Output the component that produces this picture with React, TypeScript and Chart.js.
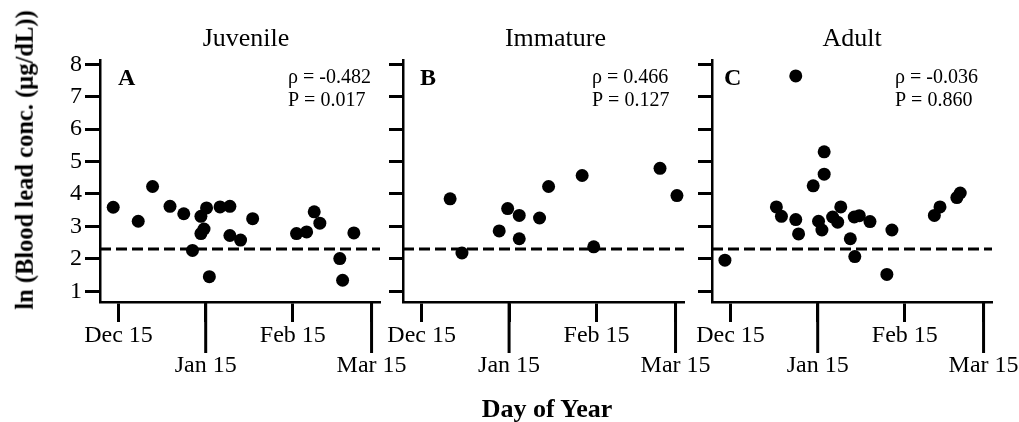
import React, { useEffect, useRef } from 'react';
import { Chart, registerables } from 'chart.js';

Chart.register(...registerables);

const SERIF = '"Liberation Serif", "Times New Roman", Times, serif';

// x axis: days after Dec 15
const tickDays = [0, 31, 62, 90];
const tickLabels = ['Dec 15', 'Jan 15', 'Feb 15', 'Mar 15'];
const longTick = [false, true, false, true];
const xMin = -6.6;
const xMax = 93;

// y axis: ln(blood lead)
const yTicks = [1, 2, 3, 4, 5, 6, 7, 8];
const yMin = 0.67;
const yMax = 8.13;
const threshold = 2.3; // ln(10 µg/dL)

const panelTitles = ['Juvenile', 'Immature', 'Adult'];
const panelLetters = ['A', 'B', 'C'];
const rhoValues = ['-0.482', '0.466', '-0.036'];
const pValues = ['0.017', '0.127', '0.860'];

const juvenileDays = [-1.9, 7.0, 12.1, 18.3, 23.2, 26.3, 29.3, 31.3, 30.4, 29.3, 32.3, 36.1, 39.6, 39.6, 43.4, 47.7, 63.3, 66.9, 69.6, 71.6, 78.7, 79.7, 83.7];
const juvenileLn = [3.59, 3.16, 4.23, 3.62, 3.39, 2.26, 3.31, 3.57, 2.92, 2.78, 1.45, 3.6, 3.62, 2.72, 2.58, 3.24, 2.78, 2.83, 3.45, 3.1, 2.01, 1.34, 2.8];

const immatureDays = [10.1, 14.3, 27.5, 30.5, 34.6, 34.6, 41.8, 45.0, 56.9, 61.0, 84.5, 90.5];
const immatureLn = [3.85, 2.18, 2.86, 3.55, 3.34, 2.62, 3.26, 4.23, 4.57, 2.37, 4.79, 3.95];

const adultDays = [-2.0, 23.2, 16.3, 18.1, 23.2, 24.2, 29.4, 33.3, 33.3, 31.3, 32.5, 36.3, 39.2, 38.1, 44.0, 45.8, 49.6, 42.6, 44.2, 55.6, 57.4, 72.5, 74.5, 80.5, 81.7];
const adultLn = [1.96, 7.64, 3.6, 3.31, 3.21, 2.77, 4.25, 5.3, 4.61, 3.16, 2.89, 3.29, 3.6, 3.13, 3.29, 3.33, 3.15, 2.62, 2.07, 1.52, 2.89, 3.34, 3.6, 3.89, 4.03];

type PanelProps = {
  idx: number;
  days: number[];
  values: number[];
  left: number;
  plotWidth: number;
  showYLabels: boolean;
  titleDx: number;
  letterDx: number;
  statsDx: number;
  yTickLen: number;
};

const CANVAS_H = 422;
const AXIS_W = 100;
const RIGHT_PAD = 40;

function Panel(p: PanelProps) {
  const ref = useRef<HTMLCanvasElement>(null);
  const width = AXIS_W + p.plotWidth + RIGHT_PAD;

  useEffect(() => {
    const canvas = ref.current;
    if (!canvas) return;

    const textPlugin = {
      id: 'panelText' + p.idx,
      afterDraw(chart: any) {
        const { ctx, chartArea } = chart;
        ctx.save();
        ctx.fillStyle = '#000';
        ctx.textBaseline = 'alphabetic';
        // panel title
        ctx.font = `26px ${SERIF}`;
        ctx.textAlign = 'center';
        ctx.fillText(panelTitles[p.idx], (chartArea.left + chartArea.right) / 2 + p.titleDx, chartArea.top - 14);
        // panel letter
        ctx.font = `bold 24px ${SERIF}`;
        ctx.textAlign = 'left';
        ctx.fillText(panelLetters[p.idx], chartArea.left + p.letterDx, chartArea.top + 25);
        // statistics
        ctx.font = `20px ${SERIF}`;
        ctx.fillText('\u03c1 = ' + rhoValues[p.idx], chartArea.right - p.statsDx, chartArea.top + 23);
        ctx.fillText('P = ' + pValues[p.idx], chartArea.right - p.statsDx, chartArea.top + 46);
        // long x ticks
        const xs = chart.scales.x;
        ctx.strokeStyle = '#000';
        ctx.lineWidth = 3;
        tickDays.forEach((d, i) => {
          if (!longTick[i]) return;
          const px = xs.getPixelForValue(d);
          ctx.beginPath();
          ctx.moveTo(px, chartArea.bottom);
          ctx.lineTo(px, chartArea.bottom + 51);
          ctx.stroke();
        });
        ctx.restore();
      },
    };

    const chart = new Chart(canvas, {
      type: 'scatter',
      data: {
        datasets: [
          {
            data: p.days.map((d, i) => ({ x: d, y: p.values[i] })),
            backgroundColor: '#000',
            borderColor: '#000',
            borderWidth: 0,
            pointRadius: 6.5,
            pointHoverRadius: 6.5,
          },
          {
            data: [
              { x: xMin, y: threshold },
              { x: xMax, y: threshold },
            ],
            showLine: true,
            borderColor: '#000',
            borderWidth: 3,
            borderDash: [11, 5],
            pointRadius: 0,
            pointHoverRadius: 0,
          } as any,
        ],
      },
      options: {
        animation: false,
        responsive: false,
        events: [],
        layout: { padding: { left: 0, right: RIGHT_PAD, top: 60, bottom: 0 } },
        plugins: {
          legend: { display: false },
          tooltip: { enabled: false },
          title: { display: false },
        },
        scales: {
          x: {
            type: 'linear',
            min: xMin,
            max: xMax,
            afterBuildTicks: (scale: any) => {
              scale.ticks = tickDays.map((v) => ({ value: v }));
            },
            afterFit: (scale: any) => {
              scale.height = CANVAS_H - 302;
            },
            border: { display: true, color: '#000', width: 2.5 },
            grid: {
              display: true,
              drawOnChartArea: false,
              drawTicks: true,
              tickLength: 20,
              tickWidth: 3,
              tickColor: '#000',
            },
            ticks: {
              autoSkip: false,
              maxRotation: 0,
              minRotation: 0,
              padding: -2,
              color: '#000',
              font: { family: SERIF, size: 24, lineHeight: 1.28 },
              callback: (_v: any, i: number) => (longTick[i] ? ['', tickLabels[i]] : tickLabels[i]),
            },
          },
          y: {
            type: 'linear',
            min: yMin,
            max: yMax,
            afterBuildTicks: (scale: any) => {
              scale.ticks = yTicks.map((v) => ({ value: v }));
            },
            afterFit: (scale: any) => {
              scale.width = AXIS_W;
            },
            border: { display: true, color: '#000', width: 2.5 },
            grid: {
              display: true,
              drawOnChartArea: false,
              drawTicks: true,
              tickLength: p.yTickLen,
              tickWidth: 3,
              tickColor: '#000',
            },
            ticks: {
              display: p.showYLabels,
              padding: 3,
              color: '#000',
              font: { family: SERIF, size: 24 },
              callback: (v: any) => String(v),
            },
          },
        },
      },
      plugins: [textPlugin],
    } as any);

    return () => chart.destroy();
  }, []);

  return (
    <canvas
      ref={ref}
      width={width}
      height={CANVAS_H}
      style={{ position: 'absolute', left: p.left, top: 0, width, height: CANVAS_H }}
    />
  );
}

export default function App() {
  return (
    <div
      style={{
        position: 'fixed',
        left: 0,
        top: 0,
        width: 1019,
        height: 422,
        overflow: 'hidden',
        background: '#fff',
      }}
    >
      <Panel idx={0} days={juvenileDays} values={juvenileLn} left={0} plotWidth={280} showYLabels={true} titleDx={6} letterDx={18} statsDx={92} yTickLen={15} />
      <Panel idx={1} days={immatureDays} values={immatureLn} left={303} plotWidth={281} showYLabels={false} titleDx={12} letterDx={17} statsDx={92} yTickLen={14} />
      <Panel idx={2} days={adultDays} values={adultLn} left={612} plotWidth={280} showYLabels={false} titleDx={0} letterDx={12} statsDx={97} yTickLen={14} />
      <div
        style={{
          position: 'absolute',
          left: 25,
          top: 159.5,
          transform: 'translate(-50%, -50%) rotate(-90deg)',
          fontFamily: SERIF,
          fontWeight: 'bold',
          fontSize: '24.5px',
          lineHeight: '24.5px',
          whiteSpace: 'nowrap',
          color: '#000',
        }}
      >
        ln (Blood lead conc. (µg/dL))
      </div>
      <div
        style={{
          position: 'absolute',
          left: 547,
          top: 396,
          transform: 'translateX(-50%)',
          fontFamily: SERIF,
          fontWeight: 'bold',
          fontSize: '26px',
          lineHeight: '26px',
          whiteSpace: 'nowrap',
          color: '#000',
        }}
      >
        Day of Year
      </div>
    </div>
  );
}
